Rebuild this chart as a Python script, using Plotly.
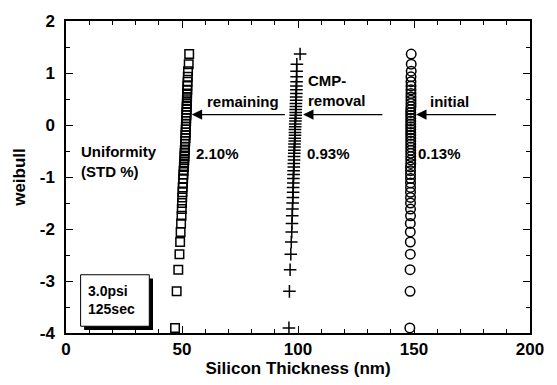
import plotly.graph_objects as go

# Weibull ordinate (ln(-ln(1-F))), 49 points per series
weibull = [-3.902, -3.199, -2.783, -2.484, -2.250, -2.057, -1.892, -1.747, -1.617, -1.500,
           -1.392, -1.293, -1.200, -1.113, -1.031, -0.953, -0.878, -0.807, -0.738, -0.672,
           -0.607, -0.545, -0.484, -0.425, -0.367, -0.309, -0.253, -0.197, -0.142, -0.087,
           -0.033, 0.021, 0.076, 0.131, 0.186, 0.241, 0.298, 0.356, 0.415, 0.476,
           0.539, 0.606, 0.676, 0.752, 0.834, 0.927, 1.034, 1.169, 1.364]

remaining_nm = [47.0, 47.7, 48.4, 48.9, 49.2, 49.4, 49.6, 49.8, 49.9, 50.0,
                50.1, 50.2, 50.3, 50.4, 50.5, 50.6, 50.7, 50.8, 50.9, 51.0,
                51.1, 51.1, 51.2, 51.3, 51.3, 51.4, 51.5, 51.5, 51.6, 51.6,
                51.7, 51.7, 51.8, 51.8, 51.9, 51.9, 52.0, 52.0, 52.1, 52.1,
                52.2, 52.2, 52.3, 52.3, 52.4, 52.5, 52.6, 52.9, 53.1]

removal_nm = [96.1, 96.3, 96.6, 96.9, 97.1, 97.3, 97.4, 97.5, 97.6, 97.7,
              97.8, 97.9, 97.9, 98.0, 98.0, 98.1, 98.1, 98.2, 98.2, 98.3,
              98.3, 98.4, 98.4, 98.5, 98.5, 98.6, 98.6, 98.7, 98.7, 98.7,
              98.8, 98.8, 98.9, 98.9, 99.0, 99.0, 99.0, 99.1, 99.1, 99.2,
              99.2, 99.3, 99.3, 99.3, 99.4, 99.4, 99.4, 99.5, 100.9]

initial_nm = [148.2, 148.3, 148.3, 148.4, 148.4, 148.4, 148.4, 148.5, 148.5, 148.5,
              148.5, 148.5, 148.5, 148.5, 148.5, 148.5, 148.5, 148.5, 148.6, 148.6,
              148.6, 148.6, 148.6, 148.6, 148.6, 148.6, 148.6, 148.6, 148.6, 148.6,
              148.6, 148.6, 148.6, 148.6, 148.6, 148.6, 148.6, 148.7, 148.7, 148.7,
              148.7, 148.7, 148.7, 148.7, 148.7, 148.7, 148.8, 148.8, 148.8]

x_tickvals = [0, 50, 100, 150, 200]
x_ticktext = ["0", "50", "100", "150", "200"]
y_tickvals = [2, 1, 0, -1, -2, -3, -4]
y_ticktext = ["2", "1", "0", "-1", "-2", "-3", "-4"]

uniformity = ["2.10%", "0.93%", "0.13%"]
labels = ["remaining", "CMP-<br>removal", "initial"]

FONT = "Liberation Sans, Arial, sans-serif"

fig = go.Figure()
fig.add_trace(go.Scatter(x=remaining_nm, y=weibull, mode="markers",
                         marker=dict(symbol="square-open", size=8.5, color="black",
                                     line=dict(width=1.5, color="black"))))
fig.add_trace(go.Scatter(x=removal_nm, y=weibull, mode="markers",
                         marker=dict(symbol="cross-thin-open", size=9, color="black",
                                     line=dict(width=1.5, color="black"))))
fig.add_trace(go.Scatter(x=initial_nm, y=weibull, mode="markers",
                         marker=dict(symbol="circle-open", size=9.5, color="black",
                                     line=dict(width=1.5, color="black"))))

afont = dict(family=FONT, size=15, color="black", weight="bold")
# arrows
arrows = [(54.2, 95.0), (102.2, 137.0), (150.9, 186.0)]
for head, tail in arrows:
    fig.add_annotation(x=head, y=0.2, ax=tail, ay=0.2, xref="x", yref="y",
                       axref="x", ayref="y", text="", showarrow=True,
                       arrowhead=2, arrowsize=1.6, arrowwidth=1.3, arrowcolor="black")

lab_pos = [(76.3, 0.46), (117.0, 0.66), (165.3, 0.46)]
for (lx, ly), t in zip(lab_pos, labels):
    fig.add_annotation(x=lx, y=ly, text=t, showarrow=False,
                       font=afont, align="left")

uni_x = [65.5, 113.0, 161.0]
for ux, t in zip(uni_x, uniformity):
    fig.add_annotation(x=ux, y=-0.55, text=t, showarrow=False, font=afont)

fig.add_annotation(x=5.5, y=-0.70, text="Uniformity<br>(STD %)", showarrow=False,
                   font=afont, align="left", xanchor="left")

# condition box with shadow
fig.add_shape(type="rect", x0=7.8, x1=37.5, y0=-3.94, y1=-2.95,
              fillcolor="black", line=dict(color="black", width=0))
fig.add_shape(type="rect", x0=6.3, x1=35.9, y0=-3.87, y1=-2.88,
              fillcolor="white", line=dict(color="black", width=1))
fig.add_annotation(x=8.5, y=-3.37, text="3.0psi<br>125sec", showarrow=False,
                   font=dict(family=FONT, size=14, color="black", weight="bold"),
                   align="left", xanchor="left")

tfont = dict(family=FONT, size=17, color="black", weight="bold")
axis_common = dict(showline=True, linecolor="black", linewidth=1.5, mirror="allticks",
                   ticks="inside", tickcolor="black", tickwidth=1.2, ticklen=7,
                   showgrid=False, zeroline=False, tickfont=tfont)
fig.update_xaxes(range=[0, 200], tickvals=x_tickvals, ticktext=x_ticktext,
                 minor=dict(ticks="inside", dtick=10, ticklen=4, tickcolor="black", tickwidth=1),
                 title=dict(text="Silicon Thickness (nm)", font=tfont, standoff=2),
                 **axis_common)
fig.update_yaxes(range=[-4, 2], tickvals=y_tickvals, ticktext=y_ticktext,
                 minor=dict(ticks="inside", dtick=0.5, ticklen=4, tickcolor="black", tickwidth=1),
                 ticklabelstandoff=6,
                 title=dict(text="weibull", font=tfont, standoff=10),
                 **axis_common)

fig.update_layout(width=557, height=385, margin=dict(l=66, r=27, t=13, b=50),
                  plot_bgcolor="white", paper_bgcolor="white", showlegend=False)

fig.write_html("out.html")
